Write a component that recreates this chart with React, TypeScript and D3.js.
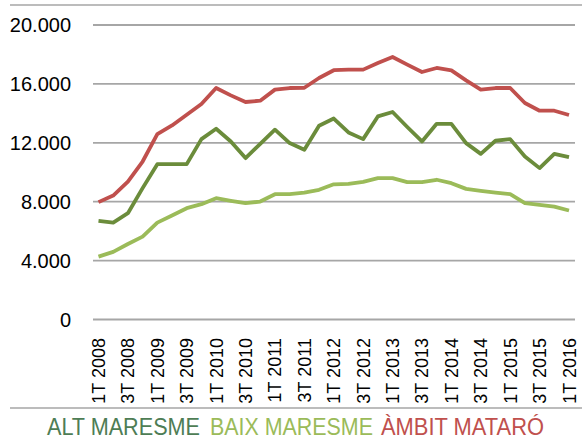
import React from "react";
import * as d3 from "d3";

const quarters: string[] = [];
for (let y = 2008; y <= 2016; y++) {
  for (let q = 1; q <= 4; q++) {
    if (y === 2016 && q > 1) break;
    quarters.push(`${q}T ${y}`);
  }
}

const altMaresme = [6700, 6580, 7220, 8920, 10550, 10550, 10550, 12250, 12950, 12090, 10960, 11930, 12890, 11980, 11530, 13160, 13650, 12700, 12250, 13790, 14090, 13070, 12090, 13290, 13290, 11980, 11250, 12140, 12250, 11070, 10280, 11250, 11030];
const baixMaresme = [4270, 4590, 5130, 5630, 6580, 7060, 7560, 7830, 8240, 8060, 7900, 8010, 8510, 8510, 8620, 8810, 9180, 9210, 9350, 9600, 9600, 9330, 9330, 9490, 9260, 8870, 8740, 8620, 8510, 7900, 7790, 7670, 7400];
const ambitMataro = [7970, 8420, 9370, 10730, 12590, 13180, 13900, 14630, 15720, 15220, 14770, 14860, 15610, 15720, 15740, 16400, 16930, 16970, 16970, 17420, 17830, 17310, 16810, 17080, 16920, 16240, 15610, 15720, 15720, 14700, 14180, 14180, 13890];

const yTicks = [0, 4000, 8000, 12000, 16000, 20000];
const seriesNames = ["ALT MARESME", "BAIX MARESME", "ÀMBIT MATARÓ"];
const colors = ["#4e7d55", "#9bbb59", "#c0504d"];
const lineColors = ["#6b8c3b", "#9bbb59", "#c0504d"];

const width = 582;
const height = 439;

export default function App() {
  const x = d3.scalePoint<string>().domain(quarters).range([98.5, 569]);
  const y = d3.scaleLinear().domain([0, 20000]).range([319.5, 25]);
  const fmt = (v: number) => d3.format(",")(v).replace(/,/g, ".");

  const line = d3.line<number>()
    .x((_, i) => x(quarters[i]) as number)
    .y((d) => y(d));

  const series = [altMaresme, baixMaresme, ambitMataro];
  const legendX = [47, 210, 381];
  const legendW = [153, 163, 163];

  return (
    <div style={{ position: "absolute", left: 0, top: 0 }}>
      <svg width={width} height={height} style={{ display: "block", fontFamily: "'Liberation Sans', Arial, sans-serif" }}>
        <rect width={width} height={height} fill="#fff" />
        <line x1={10} x2={582} y1={5} y2={5} stroke="#a6a6a6" strokeWidth={1.5} />
        <line x1={10} x2={582} y1={408} y2={408} stroke="#a6a6a6" strokeWidth={1.5} />

        {yTicks.map((t) => (
          <g key={t}>
            <line x1={93} x2={575} y1={y(t)} y2={y(t)} stroke="#a6a6a6" strokeWidth={1.8} />
            <text x={71} y={y(t)} dy="0.36em" textAnchor="end" fontSize={20} fill="#000">
              {fmt(t)}
            </text>
          </g>
        ))}

        {quarters.map((q, i) =>
          i % 2 === 0 ? (
            <text
              key={q}
              transform={`translate(${(x(q) as number) + 6.5},338) rotate(-90)`}
              textAnchor="end"
              fontSize={18}
              fill="#000"
            >
              {q}
            </text>
          ) : null
        )}

        {series.map((s, k) => (
          <path key={k} d={line(s) || ""} fill="none" stroke={lineColors[k]} strokeWidth={3.8} strokeLinejoin="round" />
        ))}

        {seriesNames.map((n, k) => (
          <text
            key={n}
            x={legendX[k]}
            y={435}
            fontSize={24}
            fill={colors[k]}
            textLength={legendW[k]}
            lengthAdjust="spacingAndGlyphs"
          >
            {n}
          </text>
        ))}
      </svg>
    </div>
  );
}
